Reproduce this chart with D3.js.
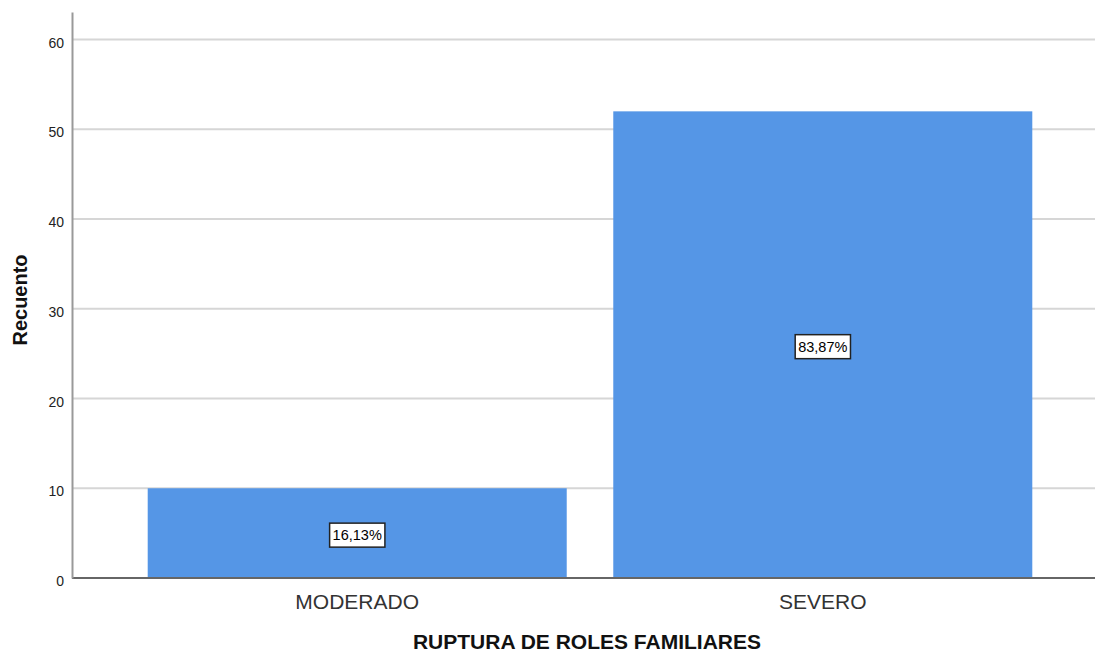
<!DOCTYPE html>
<meta charset="utf-8">
<style>
body { margin: 0; background: #fff; font-family: "Liberation Sans", Arial, sans-serif; }
.grid line { stroke: #d6d6d6; stroke-width: 2px; }
.tick text { fill: #222; }
</style>
<body>
<svg width="1095" height="653" id="chart"></svg>
<script src="https://d3js.org/d3.v7.min.js"></script>
<script>
var categories = ["MODERADO", "SEVERO"];
var counts = [10, 52];
var percents = ["16,13%", "83,87%"];
var yTicks = [0, 10, 20, 30, 40, 50, 60];

var svg = d3.select("#chart");
var plotLeft = 72, plotBottom = 578, plotTop = 12, plotRight = 1095;

var y = d3.scaleLinear().domain([0, 63.07]).range([plotBottom, plotTop]);
var x = d3.scaleBand().domain(categories)
    .range([plotLeft, 1108])
    .paddingInner(0.1)
    .paddingOuter(0.1626);

// gridlines
svg.append("g").attr("class", "grid")
  .selectAll("line")
  .data(yTicks.filter(function(d) { return d > 0; }))
  .enter().append("line")
    .attr("x1", plotLeft).attr("x2", plotRight)
    .attr("y1", function(d) { return y(d); })
    .attr("y2", function(d) { return y(d); });

// bars
svg.selectAll(".bar")
  .data(counts)
  .enter().append("rect")
    .attr("class", "bar")
    .attr("x", function(d, i) { return x(categories[i]); })
    .attr("width", x.bandwidth())
    .attr("y", function(d) { return y(d); })
    .attr("height", function(d) { return y(0) - y(d); })
    .attr("fill", "#5596e6");

// bottom axis line
svg.append("line")
  .attr("x1", plotLeft).attr("x2", plotRight)
  .attr("y1", plotBottom).attr("y2", plotBottom)
  .attr("stroke", "#666").attr("stroke-width", 2);

// y axis
var yAxis = d3.axisLeft(y).tickValues(yTicks).tickSize(0).tickPadding(8);
var gy = svg.append("g").attr("transform", "translate(" + plotLeft + ",0)").call(yAxis);
gy.select(".domain").attr("stroke", "#999").attr("stroke-width", 2);
gy.selectAll("text").attr("font-size", 14).attr("font-family", "Liberation Sans, Arial, sans-serif").attr("dy", "0.55em");

// x category labels
svg.selectAll(".cat")
  .data(categories)
  .enter().append("text")
    .attr("x", function(d) { return x(d) + x.bandwidth() / 2; })
    .attr("y", 609)
    .attr("text-anchor", "middle")
    .attr("font-size", 21)
    .attr("fill", "#333")
    .text(function(d) { return d; });

// percent labels
counts.forEach(function(c, i) {
  var cx = x(categories[i]) + x.bandwidth() / 2;
  var cy = (y(c) + y(0)) / 2 + 2;
  var g = svg.append("g");
  var t = g.append("text")
    .attr("x", cx).attr("y", cy)
    .attr("text-anchor", "middle")
    .attr("dy", "0.36em")
    .attr("font-size", 14.5)
    .attr("fill", "#000")
    .text(percents[i]);
  var bb = t.node().getBBox();
  g.insert("rect", "text")
    .attr("x", bb.x - 3).attr("y", cy - 12)
    .attr("width", bb.width + 6).attr("height", 24)
    .attr("fill", "#fff").attr("stroke", "#222").attr("stroke-width", 1.5);
});

// axis titles
svg.append("text")
  .attr("x", 587)
  .attr("y", 649)
  .attr("text-anchor", "middle")
  .attr("font-size", 21)
  .attr("font-weight", "bold")
  .attr("fill", "#111")
  .text("RUPTURA DE ROLES FAMILIARES");

svg.append("text")
  .attr("transform", "translate(27,300) rotate(-90)")
  .attr("text-anchor", "middle")
  .attr("font-size", 20)
  .attr("font-weight", "bold")
  .attr("fill", "#111")
  .text("Recuento");
</script>
</body>
